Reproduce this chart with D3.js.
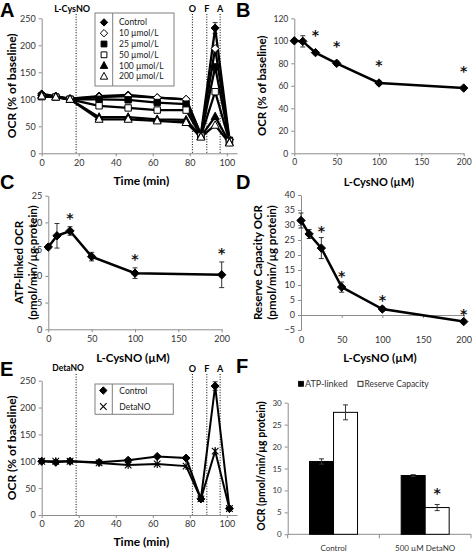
<!DOCTYPE html>
<html><head><meta charset="utf-8">
<script src="https://cdn.jsdelivr.net/npm/d3@7"></script>
<style>
body{margin:0;background:#fff;}
svg{display:block;}
</style></head><body>
<svg id="c" width="472" height="551"></svg>
<script>
// ---------- DATA ----------
// Panel A: time course, L-CysNO
const timeA = [0, 7.6, 15.3, 31, 46.7, 62.4, 78, 86, 93.7, 101.4];
const namesA = ["Control", "10 µmol/L", "25 µmol/L", "50 µmol/L", "100 µmol/L", "200 µmol/L"];
const ctrlA = [110, 106, 101, 106, 108, 103, 100, 35, 232, 26];
const c10A  = [107, 105, 101, 104, 106, 103, 100, 34, 194, 25];
const c25A  = [106, 104, 100, 100, 99, 94, 91, 33, 160, 24];
const c50A  = [105, 104, 100, 88, 84, 80, 80, 32, 114, 22];
const c100A = [108, 105, 100, 67, 67, 63, 62, 31, 68, 20];
const c200A = [106, 104, 100, 63, 63, 60, 57, 30, 52, 19];
const ctrlPeakErrA = 10;
const injTimes = [18.6, 81.4, 89.2, 96.4];
const injLabels = ["", "O", "F", "A"];
const xTicksTime = [0, 20, 40, 60, 80, 100];
const yTicksA = [0, 50, 100, 150, 200, 250];

// Panel B/C/D: dose response
const conc = [0, 10, 25, 50, 100, 200];
const xTicksConc = [0, 50, 100, 150, 200];
const meanB = [100, 99.5, 89.5, 80, 62.5, 58];
const errB  = [1.5, 5, 1.5, 2, 1.5, 1.5];
const sigB  = [false, false, true, true, true, true];
const yTicksB = [0, 20, 40, 60, 80, 100, 120];

const meanC = [15.4, 17.5, 18.4, 13.6, 10.5, 10.2];
const errC  = [0.3, 2.3, 0.8, 0.8, 1.0, 2.4];
const sigC  = [false, false, true, false, true, true];
const yTicksC = [0, 5, 10, 15, 20, 25];

const meanD = [31.5, 27, 22.3, 9.3, 2, -2.2];
const errD  = [2.5, 1.5, 3.5, 1.7, 0.7, 0.5];
const sigD  = [false, false, true, true, true, true];
const yTicksD = [-5, 0, 5, 10, 15, 20, 25, 30, 35, 40];

// Panel E: DetaNO time course
const namesE = ["Control", "DetaNO"];
const ctrlE  = [100, 98, 100, 98, 102, 109, 106, 30, 240, 12];
const detaE  = [100, 100, 100, 97, 93, 95, 91, 30, 119, 12];
const ctrlErrE = [2, 2, 2, 2, 2, 2, 2, 2, 8, 2];
const yTicksE = [0, 50, 100, 150, 200, 250];

// Panel F: bars
const catsF = ["Control", "500 µM DetaNO"];
const seriesF = ["ATP-linked", "Reserve Capacity"];
const atpF = [16.6, 13.4];
const atpErrF = [0.6, 0.2];
const rcF = [27.8, 6.1];
const rcErrF = [1.7, 0.7];
const sigRcF = [false, true];
const yTicksF = [0, 5, 10, 15, 20, 25, 30];

// ---------- DRAWING ----------
const FONT = "Lato, 'Open Sans', sans-serif";
const AXC = "#8c8c8c", TXC = "#333";
const svg = d3.select("#c").attr("font-family", FONT);

function styleAxis(sel, fs) {
  sel.select(".domain").attr("stroke", AXC).attr("stroke-width", 1);
  sel.selectAll(".tick line").attr("stroke", AXC);
  sel.selectAll(".tick text").attr("fill", TXC).attr("font-size", fs).attr("font-family", FONT);
}
function letter(t, x, y) {
  svg.append("text").attr("x", x).attr("y", y).text(t)
    .attr("font-family", "'Liberation Sans', Arial, sans-serif").attr("font-weight", "bold").attr("font-size", 20);
}
function text(t, x, y, fs, opts = {}) {
  const el = svg.append("text").attr("x", x).attr("y", y).text(t)
    .attr("font-size", fs).attr("fill", opts.fill || "#000")
    .attr("font-weight", opts.bold ? "bold" : "normal")
    .attr("text-anchor", opts.anchor || "middle")
    .attr("dominant-baseline", "central");
  if (opts.family) el.attr("font-family", opts.family);
  if (opts.rot) el.attr("transform", `rotate(-90,${x},${y})`);
  return el;
}
function star(x, yCenter) {
  // asterisk text, y given as visual centre
  return text("*", x, yCenter + 3.5, 14, { family: "'DejaVu Sans', sans-serif", fill: "#111", bold: true })
    .attr("opacity", 0.99);
}
// marker shapes
function mPath(type, r) {
  if (type === "diamond") return `M0,${-r}L${r},0L0,${r}L${-r},0Z`;
  if (type === "square") return `M${-r},${-r}H${r}V${r}H${-r}Z`;
  if (type === "triangle") return `M0,${-r * 1.1}L${r},${r * 0.75}L${-r},${r * 0.75}Z`;
  if (type === "star") return `M${-r},${-r}L${r},${r}M${-r},${r}L${r},${-r}M0,${-r * 1.2}V${r * 1.2}`;
  if (type === "x") return `M${-r},${-r}L${r},${r}M${-r},${r}L${r},${-r}`;
}
function marker(g, type, filled, x, y, r) {
  const open = type === "star" || type === "x";
  g.append("path").attr("d", mPath(type, r)).attr("transform", `translate(${x},${y})`)
    .attr("fill", open ? "none" : (filled ? "#000" : "#fff"))
    .attr("stroke", "#000").attr("stroke-width", open ? 1.1 : 1);
}
function errBar(g, x, y1, y2, cap) {
  g.append("line").attr("x1", x).attr("x2", x).attr("y1", y1).attr("y2", y2).attr("stroke", "#333").attr("stroke-width", 1);
  g.append("line").attr("x1", x - cap).attr("x2", x + cap).attr("y1", y1).attr("y2", y1).attr("stroke", "#333").attr("stroke-width", 1);
  g.append("line").attr("x1", x - cap).attr("x2", x + cap).attr("y1", y2).attr("y2", y2).attr("stroke", "#333").attr("stroke-width", 1);
}
function xAxisAt(x, yPos, ticks, fs) {
  const g = svg.append("g").attr("transform", `translate(0,${yPos})`)
    .call(d3.axisBottom(x).tickValues(ticks).tickSize(3).tickPadding(3).tickSizeOuter(0));
  styleAxis(g, fs);
  return g;
}
function yAxisAt(y, xPos, ticks, fs) {
  const g = svg.append("g").attr("transform", `translate(${xPos},0)`)
    .call(d3.axisLeft(y).tickValues(ticks).tickSize(3).tickPadding(3).tickSizeOuter(0));
  styleAxis(g, fs);
  return g;
}

// ===== Panel A =====
letter("A", 0, 17);
{
  const x = d3.scaleLinear().domain([0, 105.5]).range([41.7, 237]);
  const y = d3.scaleLinear().domain([0, 250]).range([153.3, 18.3]);
  xAxisAt(x, y(0), xTicksTime, 9);
  yAxisAt(y, x(0), yTicksA, 9);
  const g = svg.append("g");
  injTimes.forEach((t, i) => {
    g.append("line").attr("x1", x(t)).attr("x2", x(t)).attr("y1", 14).attr("y2", y(0))
      .attr("stroke", "#000").attr("stroke-width", 1).attr("stroke-dasharray", "1,1.6");
    if (injLabels[i]) text(injLabels[i], x(t), 8.5, 9, { bold: true });
  });
  text("L-CysNO", x(injTimes[0]) - 4, 8.5, 9, { bold: true });
  const series = [ctrlA, c10A, c25A, c50A, c100A, c200A];
  const shapes = [["diamond", true, 4], ["diamond", false, 4], ["square", true, 3.2], ["square", false, 3.2], ["triangle", true, 4], ["triangle", false, 4]];
  const line = d3.line().x((d, i) => x(timeA[i])).y(d => y(d));
  errBar(g, x(timeA[8]), y(ctrlA[8] + ctrlPeakErrA), y(ctrlA[8] - ctrlPeakErrA), 2.5);
  series.forEach((s, k) => {
    g.append("path").attr("d", line(s)).attr("fill", "none").attr("stroke", "#000").attr("stroke-width", 2.3).attr("stroke-linejoin", "round");
  });
  series.forEach((s, k) => {
    s.forEach((v, i) => marker(g, shapes[k][0], shapes[k][1], x(timeA[i]), y(v), shapes[k][2]));
  });
  // legend
  const lg = svg.append("g");
  lg.append("rect").attr("x", 95).attr("y", 13).attr("width", 79).attr("height", 73).attr("fill", "#fff").attr("stroke", "#7f7f7f");
  lg.append("line").attr("x1", 112.7).attr("x2", 112.7).attr("y1", 13).attr("y2", 86).attr("stroke", "#7f7f7f");
  namesA.forEach((n, k) => {
    const yy = 22.4 + k * 10.8;
    marker(lg, shapes[k][0], shapes[k][1], 104, yy, shapes[k][2] - 0.3);
    text(n, 119, yy, 8.5, { anchor: "start", fill: "#222" });
  });
  text("Time (min)", (x(0) + x(105.5)) / 2 + 2, 180.5, 12, { bold: true });
  text("OCR (% of baseline)", 12, 85.8, 12, { bold: true, rot: true });
}

// ===== Panel B =====
letter("B", 236, 17);
{
  const x = d3.scaleLinear().domain([0, 200]).range([294.3, 463.7]);
  const y = d3.scaleLinear().domain([0, 120]).range([153.3, 18.3]);
  xAxisAt(x, y(0), xTicksConc, 8.5);
  yAxisAt(y, x(0), yTicksB, 8.5);
  const g = svg.append("g");
  conc.forEach((c, i) => errBar(g, x(c), y(meanB[i] + errB[i]), y(meanB[i] - errB[i]), 2.5));
  const line = d3.line().x((d, i) => x(conc[i])).y(d => y(d));
  g.append("path").attr("d", line(meanB)).attr("fill", "none").attr("stroke", "#000").attr("stroke-width", 2.5);
  meanB.forEach((v, i) => marker(g, "diamond", true, x(conc[i]), y(v), 4.2));
  sigB.forEach((s, i) => { if (s) star(x(conc[i]), y(meanB[i]) - 21); });
  text("L-CysNO (µM)", 379, 181.5, 11, { bold: true });
  text("OCR (% of baseline)", 262, 85.8, 11.5, { bold: true, rot: true });
}

// ===== Panel C =====
letter("C", 0, 189);
{
  const x = d3.scaleLinear().domain([0, 200]).range([48.3, 221.7]);
  const y = d3.scaleLinear().domain([0, 25]).range([329.3, 195.7]);
  xAxisAt(x, y(0), xTicksConc, 9);
  yAxisAt(y, x(0), yTicksC, 9);
  const g = svg.append("g");
  conc.forEach((c, i) => errBar(g, x(c), y(meanC[i] + errC[i]), y(meanC[i] - errC[i]), 2.5));
  const line = d3.line().x((d, i) => x(conc[i])).y(d => y(d));
  g.append("path").attr("d", line(meanC)).attr("fill", "none").attr("stroke", "#000").attr("stroke-width", 2.5);
  meanC.forEach((v, i) => marker(g, "diamond", true, x(conc[i]), y(v), 4.2));
  sigC.forEach((s, i) => { if (s) star(x(conc[i]), y(meanC[i] + errC[i]) - 12); });
  text("L-CysNO (µM)", 133, 357.5, 11.5, { bold: true });
  text("ATP-linked OCR", 18.3, 262.5, 11.5, { bold: true, rot: true });
  text("(pmol/min/µg protein)", 32.7, 262.5, 11.5, { bold: true, rot: true });
}

// ===== Panel D =====
letter("D", 236, 189);
{
  const x = d3.scaleLinear().domain([0, 200]).range([301, 463.7]);
  const y = d3.scaleLinear().domain([-5, 40]).range([330, 195]);
  const ax = svg.append("g").attr("transform", `translate(0,${y(0)})`)
    .call(d3.axisBottom(x).tickValues(xTicksConc).tickSize(3).tickFormat("").tickSizeOuter(0));
  styleAxis(ax, 9);
  const lab = svg.append("g").attr("transform", `translate(0,${y(-5)})`)
    .call(d3.axisBottom(x).tickValues(xTicksConc).tickSize(0).tickPadding(7));
  lab.select(".domain").remove();
  styleAxis(lab, 9);
  yAxisAt(y, x(0), yTicksD, 9);
  const g = svg.append("g");
  conc.forEach((c, i) => errBar(g, x(c), y(meanD[i] + errD[i]), y(meanD[i] - errD[i]), 2.5));
  const line = d3.line().x((d, i) => x(conc[i])).y(d => y(d));
  g.append("path").attr("d", line(meanD)).attr("fill", "none").attr("stroke", "#000").attr("stroke-width", 2.5);
  meanD.forEach((v, i) => marker(g, "diamond", true, x(conc[i]), y(v), 4.2));
  sigD.forEach((s, i) => { if (s) star(x(conc[i]), y(meanD[i] + errD[i]) - 10); });
  text("L-CysNO (µM)", 380, 357, 11.5, { bold: true });
  text("Reserve Capacity OCR", 257.7, 262.5, 11.5, { bold: true, rot: true });
  text("(pmol/min/µg protein)", 271, 262.5, 11.5, { bold: true, rot: true });
}

// ===== Panel E =====
letter("E", 0, 376);
{
  const x = d3.scaleLinear().domain([0, 105.5]).range([41.7, 237]);
  const y = d3.scaleLinear().domain([0, 250]).range([515, 380.7]);
  xAxisAt(x, y(0), xTicksTime, 9);
  yAxisAt(y, x(0), yTicksE, 9);
  const g = svg.append("g");
  injTimes.forEach((t, i) => {
    g.append("line").attr("x1", x(t)).attr("x2", x(t)).attr("y1", 374).attr("y2", y(0))
      .attr("stroke", "#000").attr("stroke-width", 1).attr("stroke-dasharray", "1,1.6");
    if (injLabels[i]) text(injLabels[i], x(t), 368, 9, { bold: true });
  });
  text("DetaNO", x(injTimes[0]) - 8, 368, 8.5, { bold: true });
  const line = d3.line().x((d, i) => x(timeA[i])).y(d => y(d));
  ctrlE.forEach((v, i) => errBar(g, x(timeA[i]), y(v + ctrlErrE[i]), y(v - ctrlErrE[i]), 2.5));
  g.append("path").attr("d", line(ctrlE)).attr("fill", "none").attr("stroke", "#000").attr("stroke-width", 2);
  g.append("path").attr("d", line(detaE)).attr("fill", "none").attr("stroke", "#000").attr("stroke-width", 2);
  ctrlE.forEach((v, i) => marker(g, "diamond", true, x(timeA[i]), y(v), 4));
  detaE.forEach((v, i) => marker(g, "star", false, x(timeA[i]), y(v), 3.3));
  const lg = svg.append("g");
  lg.append("rect").attr("x", 95).attr("y", 384).attr("width", 78.3).attr("height", 30.3).attr("fill", "#fff").attr("stroke", "#7f7f7f");
  lg.append("line").attr("x1", 112.3).attr("x2", 112.3).attr("y1", 384).attr("y2", 414.3).attr("stroke", "#7f7f7f");
  marker(lg, "diamond", true, 103.3, 390.5, 3.7);
  marker(lg, "x", false, 103.3, 406.5, 3.3);
  text(namesE[0], 119.3, 390.5, 8.5, { anchor: "start", fill: "#222" });
  text(namesE[1], 119.3, 406.5, 8.5, { anchor: "start", fill: "#222" });
  text("Time (min)", (x(0) + x(105.5)) / 2 + 2, 541, 12, { bold: true });
  text("OCR (% of baseline)", 11.7, 447.8, 12, { bold: true, rot: true });
}

// ===== Panel F =====
letter("F", 236, 373);
{
  const x0 = d3.scaleBand().domain(catsF).range([287.7, 471]).padding(0);
  const x1 = d3.scaleBand().domain(seriesF).range([0, x0.bandwidth()]).paddingInner(0).paddingOuter(0.91);
  const y = d3.scaleLinear().domain([0, 30]).range([534.3, 402.7]);
  yAxisAt(y, 287.7, yTicksF, 8);
  const ax = svg.append("g");
  ax.append("line").attr("x1", 287.7).attr("x2", 471).attr("y1", y(0)).attr("y2", y(0)).attr("stroke", AXC);
  [287.7, x0(catsF[1]), 471].forEach(bx => ax.append("line").attr("x1", bx).attr("x2", bx).attr("y1", y(0)).attr("y2", y(0) + 4).attr("stroke", AXC));
  catsF.forEach(c => text(c, x0(c) + x0.bandwidth() / 2, 547.5, 8, { fill: TXC }));
  const g = svg.append("g");
  catsF.forEach((c, i) => {
    const xa = x0(c) + x1("ATP-linked"), xr = x0(c) + x1("Reserve Capacity"), w = x1.bandwidth();
    g.append("rect").attr("x", xa).attr("y", y(atpF[i])).attr("width", w).attr("height", y(0) - y(atpF[i])).attr("fill", "#000").attr("stroke", "#000");
    g.append("rect").attr("x", xr).attr("y", y(rcF[i])).attr("width", w).attr("height", y(0) - y(rcF[i])).attr("fill", "#fff").attr("stroke", "#000");
    errBar(g, xa + w / 2, y(atpF[i] + atpErrF[i]), y(atpF[i] - atpErrF[i]), 2.5);
    errBar(g, xr + w / 2, y(rcF[i] + rcErrF[i]), y(rcF[i] - rcErrF[i]), 2.5);
    if (sigRcF[i]) star(xr + w / 2, y(rcF[i] + rcErrF[i]) - 14.5);
  });
  // legend
  const lg = svg.append("g");
  lg.append("rect").attr("x", 298.5).attr("y", 381.3).attr("width", 5).attr("height", 5).attr("fill", "#000").attr("stroke", "#000").attr("stroke-width", 0.8);
  text(seriesF[0], 305, 383.8, 9, { anchor: "start", fill: TXC });
  lg.append("rect").attr("x", 358).attr("y", 381.3).attr("width", 5).attr("height", 5).attr("fill", "#fff").attr("stroke", "#000").attr("stroke-width", 0.8);
  text(seriesF[1], 364.5, 383.8, 8.5, { anchor: "start", fill: TXC });
  text("OCR (pmol/min/µg protein)", 261, 466, 10.5, { bold: true, rot: true });
}
</script>
</body></html>
